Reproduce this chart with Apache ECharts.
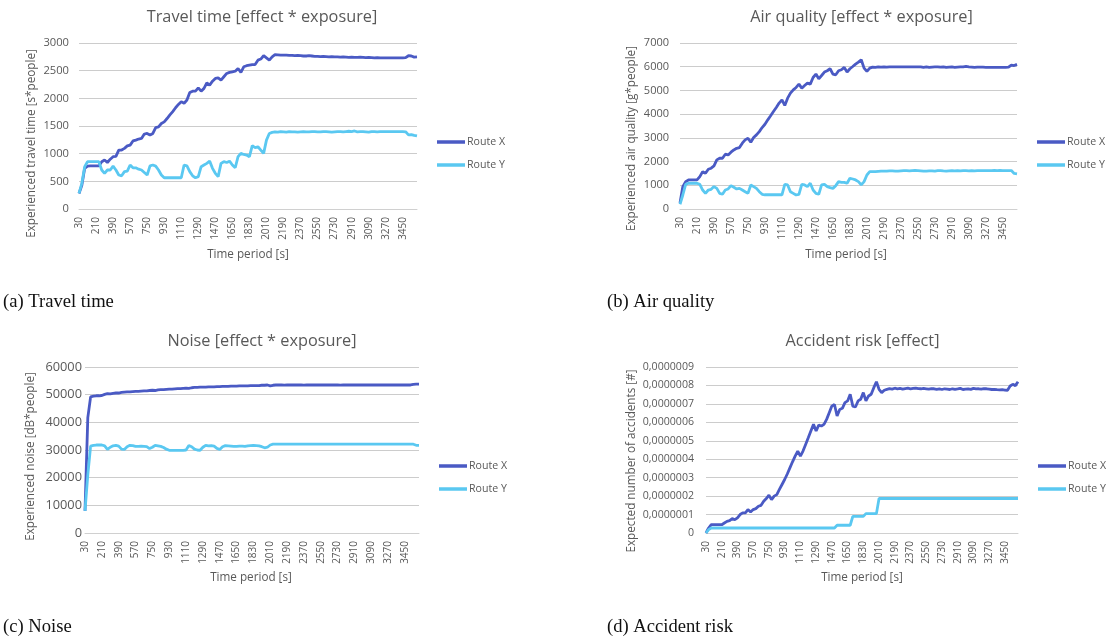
<!DOCTYPE html>
<html>
<head>
<meta charset="utf-8">
<script src="https://cdn.jsdelivr.net/npm/echarts@6/dist/echarts.min.js"></script>
<style>
html,body{margin:0;padding:0;background:#fff;}
#chart{width:1107px;height:642px;}
</style>
</head>
<body>
<div id="chart"></div>
<script>
const categories = [
30,60,90,120,150,180,210,240,270,300,330,360,390,420,450,480,510,540,570,600,
630,660,690,720,750,780,810,840,870,900,930,960,990,1020,1050,1080,1110,1140,1170,1200,
1230,1260,1290,1320,1350,1380,1410,1440,1470,1500,1530,1560,1590,1620,1650,1680,1710,1740,1770,1800,
1830,1860,1890,1920,1950,1980,2010,2040,2070,2100,2130,2160,2190,2220,2250,2280,2310,2340,2370,2400,
2430,2460,2490,2520,2550,2580,2610,2640,2670,2700,2730,2760,2790,2820,2850,2880,2910,2940,2970,3000,
3030,3060,3090,3120,3150,3180,3210,3240,3270,3300,3330,3360,3390,3420,3450,3480,3510,3540,3570,3600
];

const travelX = [
280,430,735,775,780,780,780,780,855,885,
840,900,945,950,1065,1065,1095,1140,1155,1230,
1245,1265,1275,1355,1365,1335,1365,1470,1485,1545,
1575,1635,1700,1760,1830,1890,1940,1910,1970,2105,
2130,2130,2190,2130,2180,2280,2240,2310,2360,2370,
2330,2390,2450,2470,2480,2490,2540,2470,2570,2590,
2600,2610,2610,2690,2710,2770,2730,2690,2750,2790,
2785,2780,2780,2780,2775,2775,2770,2775,2770,2765,
2765,2770,2765,2760,2760,2755,2760,2755,2750,2755,
2750,2750,2745,2750,2745,2740,2745,2740,2740,2745,
2740,2735,2740,2735,2730,2735,2730,2730,2730,2730,
2730,2730,2730,2730,2730,2735,2770,2765,2745,2750
];
const travelY = [
283,465,765,855,855,855,855,855,705,645,
705,705,775,705,615,600,675,685,795,745,
745,720,705,660,615,780,795,775,705,615,
565,565,565,565,565,565,565,795,780,675,
600,565,585,765,795,825,865,735,645,585,
825,855,840,865,795,745,945,1005,985,975,
945,1145,1110,1125,1065,1005,1245,1365,1385,1395,
1390,1400,1395,1390,1400,1395,1395,1390,1395,1400,
1395,1395,1400,1400,1395,1395,1400,1400,1395,1390,
1395,1400,1400,1395,1400,1405,1400,1410,1395,1400,
1400,1395,1390,1400,1400,1395,1400,1400,1400,1400,
1400,1400,1400,1400,1400,1395,1340,1345,1330,1320
];

const airX = [
250,945,1155,1225,1225,1225,1225,1365,1575,1505,
1675,1720,1815,2070,2140,2140,2310,2280,2395,2490,
2560,2590,2775,2915,2985,2815,3015,3125,3265,3435,
3575,3760,3930,4110,4280,4465,4605,4365,4675,4885,
5025,5125,5265,5095,5210,5310,5265,5545,5690,5490,
5630,5775,5830,5915,5690,5660,5830,5870,5970,5775,
5915,6010,6110,6195,6295,5940,5800,5940,5985,5970,
5990,5985,5995,5980,5990,5995,5990,5990,5995,5990,
5995,5990,5990,5995,5990,5995,5975,5990,5970,5985,
5990,5995,5980,5990,5970,5985,5990,5975,5985,5995,
5990,6010,5990,5985,5970,5980,5985,5980,5975,5975,
5975,5975,5975,5975,5975,5975,5980,6070,6050,6100
];
const airY = [
200,590,1040,1085,1085,1085,1085,1040,800,660,
800,830,945,870,660,620,800,845,985,915,
845,870,800,730,660,1015,945,870,730,620,
600,600,600,600,600,600,600,1040,1015,730,
660,590,620,1040,1015,945,1085,800,660,620,
1015,1040,945,900,870,985,1155,1125,1125,1085,
1295,1265,1225,1155,1015,1155,1435,1575,1575,1580,
1590,1600,1595,1600,1610,1605,1600,1600,1610,1620,
1615,1610,1620,1625,1620,1610,1600,1600,1605,1610,
1600,1615,1620,1605,1600,1610,1620,1605,1615,1610,
1620,1615,1610,1620,1610,1615,1620,1620,1620,1620,
1620,1625,1620,1625,1620,1620,1615,1620,1500,1480
];

const noiseX = [
8000,41700,49200,49500,49600,49600,49700,50100,50400,50300,
50500,50600,50600,50800,50900,51000,51000,51100,51200,51200,
51300,51400,51400,51500,51600,51500,51700,51800,51800,51900,
52000,52000,52100,52200,52200,52300,52400,52300,52500,52600,
52600,52700,52700,52700,52800,52800,52800,52900,52900,53000,
53000,53000,53100,53100,53100,53200,53200,53200,53200,53300,
53300,53300,53300,53400,53400,53500,53200,53400,53500,53500,
53500,53450,53500,53500,53550,53500,53500,53500,53450,53500,
53500,53500,53500,53500,53550,53500,53500,53500,53500,53500,
53500,53450,53500,53500,53500,53500,53500,53500,53500,53500,
53550,53500,53500,53500,53500,53500,53500,53500,53500,53500,
53500,53500,53500,53500,53500,53500,53500,53700,53800,53800
];
const noiseY = [
8000,21000,31400,31700,31800,31800,31800,31500,30200,31000,
31500,31700,31400,30300,30200,31200,31700,31600,31300,31300,
31400,31300,31200,30500,31000,31700,31500,31300,30900,30300,
29900,29900,29900,29900,29900,29900,30000,31600,31200,30300,
30000,29900,31000,31700,31500,31600,31400,30600,30200,31200,
31600,31500,31400,31300,31300,31400,31400,31300,31500,31600,
31700,31600,31500,31200,30800,31000,31800,32100,32100,32100,
32100,32100,32100,32100,32100,32100,32100,32100,32100,32100,
32100,32100,32100,32100,32100,32100,32100,32100,32100,32100,
32100,32100,32100,32100,32100,32100,32100,32100,32100,32100,
32100,32100,32100,32100,32100,32100,32100,32100,32100,32100,
32100,32100,32100,32100,32100,32100,32100,32100,31700,31700
];

const accidentX = [
0,0.27e-7,0.45e-7,0.45e-7,0.45e-7,0.45e-7,0.45e-7,0.54e-7,0.63e-7,0.67e-7,
0.78e-7,0.72e-7,0.82e-7,1.0e-7,1.09e-7,1.09e-7,1.27e-7,1.14e-7,1.27e-7,1.32e-7,
1.45e-7,1.50e-7,1.72e-7,1.87e-7,2.05e-7,1.81e-7,2.0e-7,2.08e-7,2.36e-7,2.63e-7,
2.9e-7,3.2e-7,3.53e-7,3.86e-7,4.17e-7,4.44e-7,4.17e-7,4.44e-7,4.8e-7,5.16e-7,
5.53e-7,5.89e-7,5.53e-7,5.85e-7,5.8e-7,5.89e-7,6.16e-7,6.52e-7,6.88e-7,6.97e-7,
6.34e-7,6.7e-7,6.76e-7,7.07e-7,7.16e-7,7.52e-7,6.88e-7,6.83e-7,7.16e-7,7.25e-7,
7.61e-7,7.16e-7,7.43e-7,7.52e-7,7.88e-7,8.2e-7,7.79e-7,7.61e-7,7.74e-7,7.79e-7,
7.83e-7,7.80e-7,7.85e-7,7.82e-7,7.84e-7,7.80e-7,7.83e-7,7.85e-7,7.82e-7,7.84e-7,
7.86e-7,7.83e-7,7.82e-7,7.84e-7,7.82e-7,7.80e-7,7.83e-7,7.82e-7,7.79e-7,7.81e-7,
7.78e-7,7.82e-7,7.80e-7,7.78e-7,7.82e-7,7.79e-7,7.81e-7,7.84e-7,7.78e-7,7.80e-7,
7.82e-7,7.79e-7,7.84e-7,7.81e-7,7.82e-7,7.80e-7,7.83e-7,7.82e-7,7.80e-7,7.78e-7,
7.79e-7,7.77e-7,7.76e-7,7.77e-7,7.75e-7,7.74e-7,7.97e-7,8.06e-7,7.99e-7,8.2e-7
];
const accidentY = [
0,0.18e-7,0.27e-7,0.27e-7,0.27e-7,0.27e-7,0.27e-7,0.27e-7,0.27e-7,0.27e-7,
0.27e-7,0.27e-7,0.27e-7,0.27e-7,0.27e-7,0.27e-7,0.27e-7,0.27e-7,0.27e-7,0.27e-7,
0.27e-7,0.27e-7,0.27e-7,0.27e-7,0.27e-7,0.27e-7,0.27e-7,0.27e-7,0.27e-7,0.27e-7,
0.27e-7,0.27e-7,0.27e-7,0.27e-7,0.27e-7,0.27e-7,0.27e-7,0.27e-7,0.27e-7,0.27e-7,
0.27e-7,0.27e-7,0.27e-7,0.27e-7,0.27e-7,0.27e-7,0.27e-7,0.27e-7,0.27e-7,0.27e-7,
0.42e-7,0.42e-7,0.42e-7,0.42e-7,0.42e-7,0.42e-7,0.9e-7,0.9e-7,0.9e-7,0.9e-7,
0.9e-7,1.05e-7,1.05e-7,1.05e-7,1.05e-7,1.05e-7,1.87e-7,1.87e-7,1.87e-7,1.87e-7,
1.87e-7,1.87e-7,1.87e-7,1.87e-7,1.87e-7,1.87e-7,1.87e-7,1.87e-7,1.87e-7,1.87e-7,
1.87e-7,1.87e-7,1.87e-7,1.87e-7,1.87e-7,1.87e-7,1.87e-7,1.87e-7,1.87e-7,1.87e-7,
1.87e-7,1.87e-7,1.87e-7,1.87e-7,1.87e-7,1.87e-7,1.87e-7,1.87e-7,1.87e-7,1.87e-7,
1.87e-7,1.87e-7,1.87e-7,1.87e-7,1.87e-7,1.87e-7,1.87e-7,1.87e-7,1.87e-7,1.87e-7,
1.87e-7,1.87e-7,1.87e-7,1.87e-7,1.87e-7,1.87e-7,1.87e-7,1.87e-7,1.87e-7,1.87e-7
];

const seriesNames = ['Route X', 'Route Y'];
const titles = ['Travel time [effect * exposure]', 'Air quality [effect * exposure]', 'Noise [effect * exposure]', 'Accident risk [effect]'];
const yNames = ['Experienced travel time [s*people]', 'Experienced air quality [g*people]', 'Experienced noise [dB*people]', 'Expected number of accidents [#]'];
const xName = 'Time period [s]';
const captions = ['(a) Travel time', '(b) Air quality', '(c) Noise', '(d) Accident risk'];
const yMax = [3000, 7000, 60000, 9e-7];
const yStep = [500, 1000, 10000, 1e-7];

const FONT = "'Open Sans', sans-serif";
const GREY = '#595959';
const COLX = '#4a5ac4';
const COLY = '#5ac8f1';

// layout (pixels)
const grids = [
  {left: 79, top: 43, width: 338, height: 166},
  {left: 680, top: 43, width: 337, height: 166},
  {left: 85, top: 367, width: 334, height: 166},
  {left: 706, top: 367, width: 312, height: 166}
];
const yLabelSize = [11.2, 11, 12.8, 10.6];
const yLabelMargin = [10, 11, 3, 12];
const legendPos = [
  {left: 437, top: 135}, {left: 1037, top: 135},
  {left: 439, top: 459}, {left: 1038, top: 459}
];
const titlePos = [[262, 17], [861.5, 17], [262, 341], [862.5, 341]];
const yNamePos = [[31.7, 143.5], [631.7, 138.5], [31, 456.5], [631.7, 461]];
const xNamePos = [[248, 255], [846, 255], [251, 578], [862, 578]];
const captionPos = [[3, 302], [607, 302], [3, 627], [607, 627]];

const dataSets = [[travelX, travelY], [airX, airY], [noiseX, noiseY], [accidentX, accidentY]];

function fmtPlain(v) { return String(v); }
function fmtAcc(v) {
  if (v === 0) return '0';
  return v.toFixed(7).replace('.', ',');
}

const option = {
  backgroundColor: '#ffffff',
  animation: false,
  grid: grids,
  xAxis: grids.map((g, k) => ({
    type: 'category', gridIndex: k, data: categories, boundaryGap: false,
    axisLine: {show: true, lineStyle: {color: '#d0d0d0', width: 1}},
    axisTick: {show: false},
    splitLine: {show: false},
    axisLabel: {interval: 5, rotate: 90, fontSize: 10, color: GREY, margin: 8, fontFamily: FONT}
  })),
  yAxis: grids.map((g, k) => ({
    type: 'value', gridIndex: k, min: 0, max: yMax[k], interval: yStep[k],
    axisLine: {show: false}, axisTick: {show: false},
    splitLine: {lineStyle: {color: '#cccccc', width: 1}},
    axisLabel: {fontSize: yLabelSize[k], color: GREY, margin: yLabelMargin[k], fontFamily: FONT,
      formatter: k === 3 ? fmtAcc : fmtPlain}
  })),
  legend: legendPos.map(p => ({
    orient: 'vertical', left: p.left, top: p.top, padding: 0,
    icon: 'rect', itemWidth: 28, itemHeight: 3.5, itemGap: 9,
    data: seriesNames,
    textStyle: {fontSize: 10.6, color: GREY, fontFamily: FONT, lineHeight: 14, padding: [0, 0, 0, -3]}
  })),
  series: [],
  graphic: []
};

dataSets.forEach((pair, k) => {
  pair.forEach((arr, j) => {
    option.series.push({
      name: seriesNames[j], type: 'line', xAxisIndex: k, yAxisIndex: k,
      data: arr, showSymbol: false, symbol: 'none',
      lineStyle: {width: 2.8, color: j === 0 ? COLX : COLY},
      itemStyle: {color: j === 0 ? COLX : COLY},
      emphasis: {disabled: true}
    });
  });
});

function txt(text, x, y, size, opts) {
  opts = opts || {};
  return {
    type: 'text', x: x, y: y, rotation: opts.rotation || 0, silent: true,
    style: {
      text: text, fill: opts.fill || GREY, fontSize: size,
      fontFamily: opts.family || FONT,
      align: opts.align || 'center', verticalAlign: 'middle',
      textAlign: opts.align || 'center', textVerticalAlign: 'middle'
    }
  };
}

for (let k = 0; k < 4; k++) {
  option.graphic.push(txt(titles[k], titlePos[k][0], titlePos[k][1], 16.3));
  option.graphic.push(txt(yNames[k], yNamePos[k][0], yNamePos[k][1], 11.7, {rotation: Math.PI / 2}));
  option.graphic.push(txt(xName, xNamePos[k][0], xNamePos[k][1], 11.7));
  option.graphic.push(txt(captions[k], captionPos[k][0], captionPos[k][1], 18.6,
    {align: 'left', fill: '#111111', family: "'Liberation Serif', 'Times New Roman', serif"}));
}

const chart = echarts.init(document.getElementById('chart'), null, {renderer: 'canvas'});
chart.setOption(option);
</script>
</body>
</html>
